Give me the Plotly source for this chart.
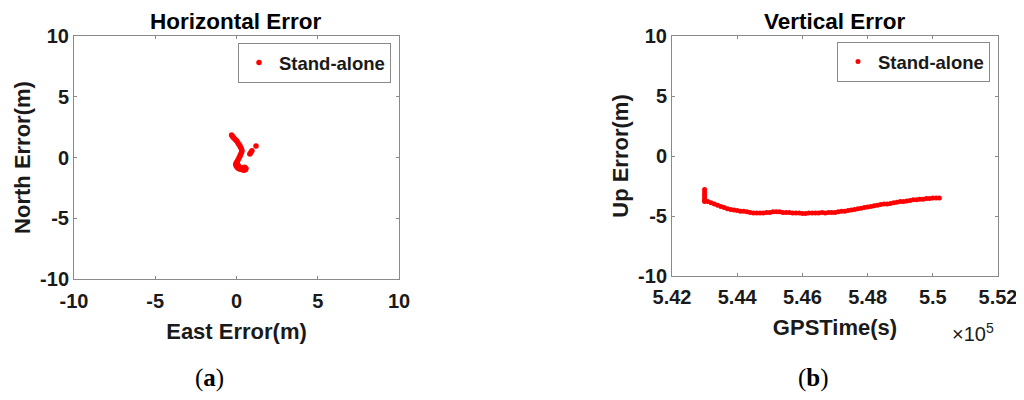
import plotly.graph_objects as go

# horizontal error (m)
east_err = [-0.30, -0.25, -0.20, -0.12, -0.05, 0.02, 0.08, 0.14, 0.20, 0.25,
            0.30, 0.33, 0.32, 0.28, 0.24, 0.20, 0.15, 0.10, 0.05, 0.00,
            -0.05, -0.02, 0.05, 0.12, 0.20, 0.30, 0.40, 0.50, 0.58, 0.55,
            0.45, 0.35, 0.25, 0.15, 0.08, 0.82, 0.88, 0.95, 1.20]
north_err = [1.85, 1.75, 1.65, 1.55, 1.45, 1.35, 1.22, 1.10, 0.98, 0.85,
             0.72, 0.58, 0.45, 0.32, 0.20, 0.08, -0.05, -0.18, -0.30, -0.42,
             -0.55, -0.70, -0.82, -0.90, -0.95, -0.92, -0.85, -0.80, -0.90, -1.00,
             -1.05, -1.00, -0.95, -0.75, -0.60, 0.28, 0.42, 0.55, 0.95]

# vertical error vs GPS time
gps_time = [543000, 543000, 543000, 543000, 543000, 543000,
            543000, 543100, 543200, 543300, 543400, 543500, 543600, 543700, 543800, 543900,
            544000, 544100, 544200, 544300, 544400, 544500, 544600, 544700, 544800, 544900,
            545000, 545100, 545200, 545300, 545400, 545500, 545600, 545700, 545800, 545900,
            546000, 546100, 546200, 546300, 546400, 546500, 546600, 546700, 546800, 546900,
            547000, 547100, 547200, 547300, 547400, 547500, 547600, 547700, 547800, 547900,
            548000, 548100, 548200, 548300, 548400, 548500, 548600, 548700, 548800, 548900,
            549000, 549100, 549200, 549300, 549400, 549500, 549600, 549700, 549800, 549900,
            550000, 550100, 550200]
up_err = [-2.8, -3.0, -3.2, -3.4, -3.6, -3.8,
          -3.7, -3.8, -3.9, -4.0, -4.1, -4.2, -4.3, -4.4, -4.45, -4.5,
          -4.55, -4.6, -4.6, -4.65, -4.7, -4.75, -4.75, -4.75, -4.75, -4.7,
          -4.7, -4.65, -4.65, -4.65, -4.7, -4.7, -4.7, -4.75, -4.75, -4.75,
          -4.8, -4.8, -4.75, -4.75, -4.75, -4.75, -4.7, -4.75, -4.7, -4.7,
          -4.7, -4.65, -4.6, -4.6, -4.55, -4.5, -4.45, -4.4, -4.35, -4.3,
          -4.25, -4.2, -4.15, -4.1, -4.05, -4.0, -4.0, -3.95, -3.9, -3.85,
          -3.8, -3.8, -3.75, -3.7, -3.65, -3.65, -3.6, -3.6, -3.55, -3.55,
          -3.5, -3.5, -3.5]

err_ticks = [-10, -5, 0, 5, 10]
err_labels = ["-10", "-5", "0", "5", "10"]
time_ticks = [542000, 544000, 546000, 548000, 550000, 552000]
time_labels = ["5.42", "5.44", "5.46", "5.48", "5.5", "5.52"]

FONT = "Arial, Liberation Sans, sans-serif"
SERIF = "Liberation Serif, Times New Roman, serif"
INK = "#1a1a1a"

# the page body adds an 8px margin, so the figure is drawn 8px in from the window edge
W, H, OFF = 1016, 384, 8


def px(x):
    return (x - OFF) / W


def py(y):
    return 1 - (y - OFF) / H


fig = go.Figure()

fig.add_trace(go.Scatter(
    x=east_err, y=north_err, mode="markers", name="Stand-alone",
    marker=dict(color="#ff0000", size=5.5), xaxis="x", yaxis="y", legend="legend"
))
fig.add_trace(go.Scatter(
    x=gps_time, y=up_err, mode="markers", name="Stand-alone",
    marker=dict(color="#ff0000", size=5), xaxis="x2", yaxis="y2", legend="legend2"
))

axis_style = dict(
    showline=True, linecolor="#8a8a8a", linewidth=1, mirror="ticks",
    ticks="inside", ticklen=3, tickcolor="#8a8a8a", showgrid=False, zeroline=False,
    automargin=False,
    tickfont=dict(family=FONT, size=20, color=INK, weight="bold"),
)
title_font = dict(family=FONT, size=22, color=INK, weight="bold")
legend_style = dict(xanchor="left", yanchor="top", bordercolor="#8a8a8a", borderwidth=1,
                    bgcolor="white", font=dict(family=FONT, size=18.5, color=INK, weight="bold"))

fig.update_layout(
    width=W, height=H,
    paper_bgcolor="white", plot_bgcolor="white",
    margin=dict(l=0, r=0, t=0, b=0),
    showlegend=True,
    xaxis=dict(domain=[px(74), px(399)], range=[-10, 10], tickvals=err_ticks, ticktext=err_labels,
               anchor="y", ticklabelstandoff=4,
               title=dict(text="East Error(m)", font=title_font, standoff=12),
               **axis_style),
    yaxis=dict(domain=[py(279), py(36)], range=[-10, 10], tickvals=err_ticks, ticktext=err_labels,
               anchor="x", title=dict(text="North Error(m)", font=title_font, standoff=3),
               **axis_style),
    xaxis2=dict(domain=[px(672), px(998)], range=[542000, 552000],
                tickvals=time_ticks, ticktext=time_labels,
                anchor="y2", ticklabelstandoff=3,
                title=dict(text="GPSTime(s)", font=title_font, standoff=12),
                **axis_style),
    yaxis2=dict(domain=[py(276), py(36)], range=[-10, 10], tickvals=err_ticks, ticktext=err_labels,
                anchor="x2", title=dict(text="Up Error(m)", font=title_font, standoff=3),
                **axis_style),
    legend=dict(x=px(238), y=py(43), **legend_style),
    legend2=dict(x=px(837), y=py(42), **legend_style),
)

fig.add_annotation(text="<b>Horizontal Error</b>", xref="paper", yref="paper",
                   x=px(236), y=1.0, xanchor="center", yanchor="top", borderpad=0,
                   showarrow=False, font=dict(family=FONT, size=22.5, color="#000000"))
fig.add_annotation(text="<b>Vertical Error</b>", xref="paper", yref="paper",
                   x=px(835), y=1.0, xanchor="center", yanchor="top", borderpad=0,
                   showarrow=False, font=dict(family=FONT, size=22.5, color="#000000"))

fig.add_annotation(text="×10<sup>5</sup>", xref="paper", yref="paper",
                   x=px(973), y=py(332), xanchor="center", yanchor="middle", showarrow=False,
                   font=dict(family=FONT, size=20, color=INK))

fig.add_annotation(text="(<b>a</b>)", xref="paper", yref="paper",
                   x=px(209), y=py(378), xanchor="center", yanchor="middle", showarrow=False,
                   font=dict(family=SERIF, size=25, color="#000000"))
fig.add_annotation(text="(<b>b</b>)", xref="paper", yref="paper",
                   x=px(813), y=py(378), xanchor="center", yanchor="middle", showarrow=False,
                   font=dict(family=SERIF, size=25, color="#000000"))

fig.write_html("out.html")
